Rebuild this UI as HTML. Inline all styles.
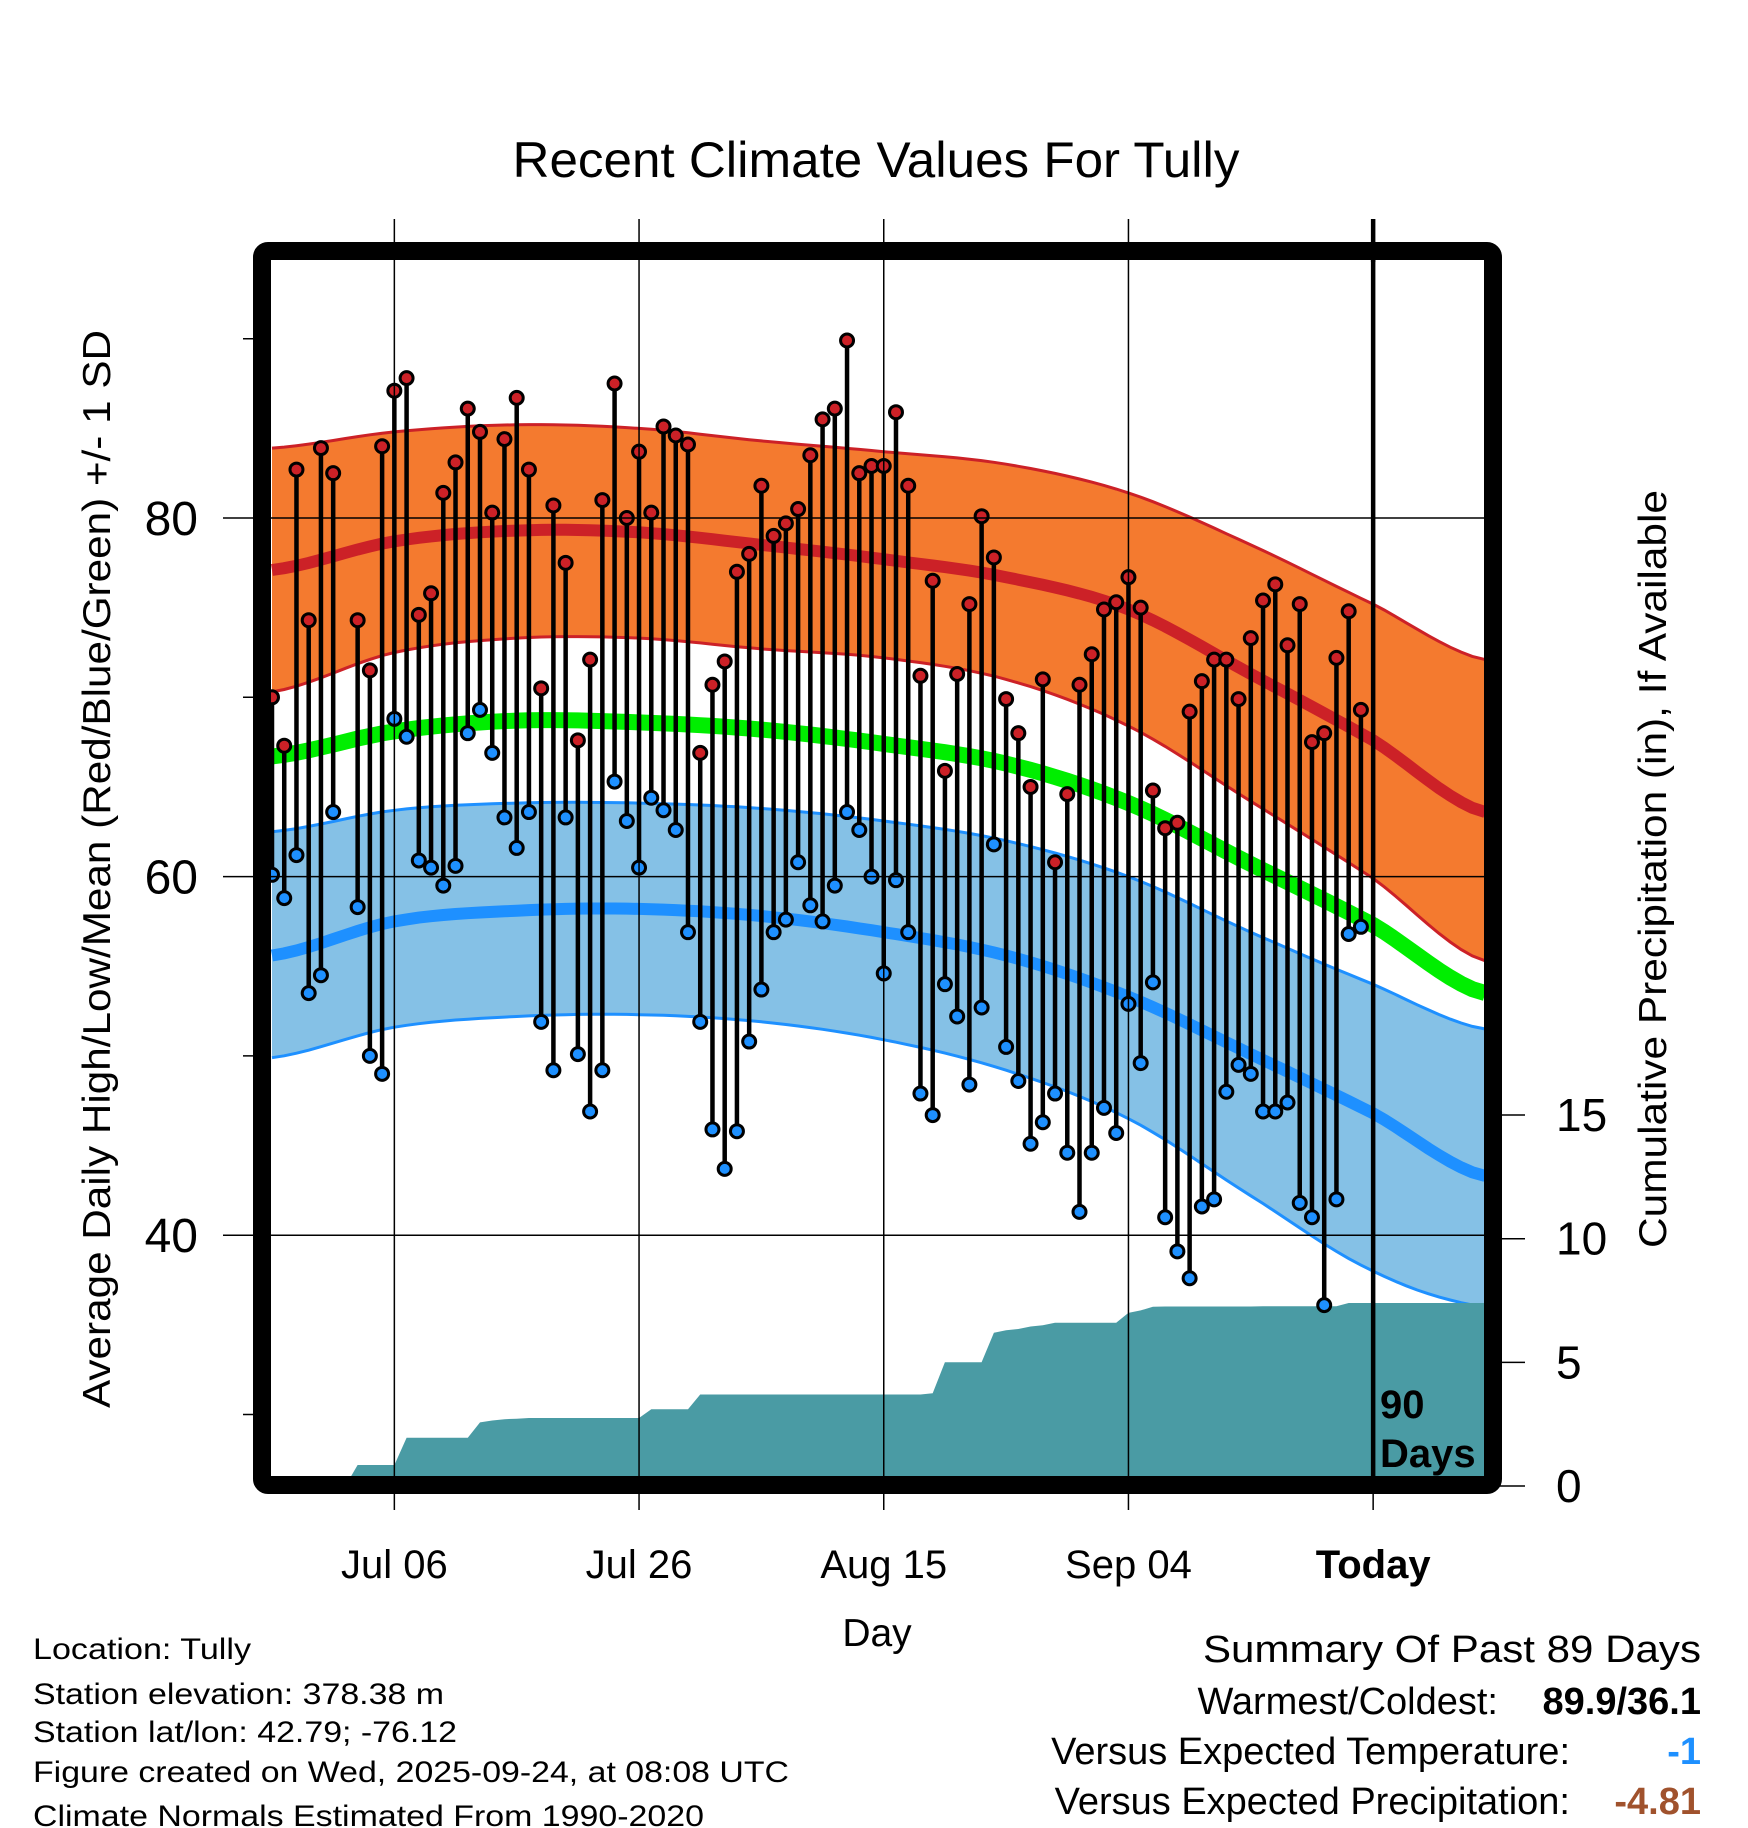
<!DOCTYPE html>
<html><head><meta charset="utf-8"><style>
html,body{margin:0;padding:0;background:#fff}
svg{display:block}
text{font-family:"Liberation Sans",Arial,sans-serif;fill:#000}
</style></head><body>
<svg id="chart" width="1748" height="1828" viewBox="0 0 1748 1828" xmlns="http://www.w3.org/2000/svg">
<defs><clipPath id="plotclip"><rect x="271" y="260" width="1214" height="1216"/></clipPath></defs>
<text x="876" y="177" font-size="50" text-anchor="middle" textLength="727" lengthAdjust="spacingAndGlyphs">Recent Climate Values For Tully</text>
<g id="plot" clip-path="url(#plotclip)"></g>
<g id="axes"></g>
<rect x="262" y="251" width="1231" height="1234" fill="none" stroke="#000" stroke-width="18" rx="6"/>
<text transform="translate(110,869) rotate(-90)" font-size="39" text-anchor="middle" textLength="1078" lengthAdjust="spacingAndGlyphs">Average Daily High/Low/Mean (Red/Blue/Green) +/- 1 SD</text>
<text transform="translate(1666,869) rotate(-90)" font-size="39" text-anchor="middle" textLength="758" lengthAdjust="spacingAndGlyphs">Cumulative Precipitation (in), If Available</text>
<text x="877" y="1646" font-size="39" text-anchor="middle">Day</text>
<text font-weight="bold" font-size="40"><tspan x="1380" y="1418">90</tspan><tspan x="1380" y="1467">Days</tspan></text>
<g font-size="30">
<text x="33" y="1659" textLength="218" lengthAdjust="spacingAndGlyphs">Location: Tully</text>
<text x="33" y="1704" textLength="411" lengthAdjust="spacingAndGlyphs">Station elevation: 378.38 m</text>
<text x="33" y="1742" textLength="424" lengthAdjust="spacingAndGlyphs">Station lat/lon: 42.79; -76.12</text>
<text x="33" y="1782" textLength="756" lengthAdjust="spacingAndGlyphs">Figure created on Wed, 2025-09-24, at 08:08 UTC</text>
<text x="33" y="1826" textLength="671" lengthAdjust="spacingAndGlyphs">Climate Normals Estimated From 1990-2020</text>
</g>
<g font-size="38">
<text x="1701" y="1662" text-anchor="end" textLength="498" lengthAdjust="spacingAndGlyphs">Summary Of Past 89 Days</text>
<text x="1498" y="1714" text-anchor="end">Warmest/Coldest:</text>
<text x="1701" y="1714" text-anchor="end" font-weight="bold">89.9/36.1</text>
<text x="1570" y="1764" text-anchor="end">Versus Expected Temperature:</text>
<text x="1701" y="1764" text-anchor="end" font-weight="bold" style="fill:#1E90FF">-1</text>
<text x="1570" y="1814" text-anchor="end">Versus Expected Precipitation:</text>
<text x="1701" y="1814" text-anchor="end" font-weight="bold" style="fill:#A0522D">-4.81</text>
</g>
</svg>
<script>
const highs=[70.0,67.3,82.7,74.3,83.9,82.5,null,74.3,71.5,84.0,87.1,87.8,74.6,75.8,81.4,83.1,86.1,84.8,80.3,84.4,86.7,82.7,70.5,80.7,77.5,67.6,72.1,81.0,87.5,80.0,83.7,80.3,85.1,84.6,84.1,66.9,70.7,72.0,77.0,78.0,81.8,79.0,79.7,80.5,83.5,85.5,86.1,89.9,82.5,82.9,82.9,85.9,81.8,71.2,76.5,65.9,71.3,75.2,80.1,77.8,69.9,68.0,65.0,71.0,60.8,64.6,70.7,72.4,74.9,75.3,76.7,75.0,64.8,62.7,63.0,69.2,70.9,72.1,72.1,69.9,73.3,75.4,76.3,72.9,75.2,67.5,68.0,72.2,74.8,69.3];
const lows=[60.1,58.8,61.2,53.5,54.5,63.6,null,58.3,50.0,49.0,68.8,67.8,60.9,60.5,59.5,60.6,68.0,69.3,66.9,63.3,61.6,63.6,51.9,49.2,63.3,50.1,46.9,49.2,65.3,63.1,60.5,64.4,63.7,62.6,56.9,51.9,45.9,43.7,45.8,50.8,53.7,56.9,57.6,60.8,58.4,57.5,59.5,63.6,62.6,60.0,54.6,59.8,56.9,47.9,46.7,54.0,52.2,48.4,52.7,61.8,50.5,48.6,45.1,46.3,47.9,44.6,41.3,44.6,47.1,45.7,52.9,49.6,54.1,41.0,39.1,37.6,41.6,42.0,48.0,49.5,49.0,46.9,46.9,47.4,41.8,41.0,36.1,42.0,56.8,57.2];
const precipCum=[0,0,0,0,0,0,0,0.85,0.85,0.85,0.85,1.95,1.95,1.95,1.95,1.95,1.95,2.57,2.65,2.7,2.72,2.75,2.75,2.75,2.75,2.75,2.75,2.75,2.75,2.75,2.75,3.1,3.1,3.1,3.1,3.7,3.7,3.7,3.7,3.7,3.7,3.7,3.7,3.7,3.7,3.7,3.7,3.7,3.7,3.7,3.7,3.7,3.7,3.7,3.75,5.0,5.0,5.0,5.0,6.2,6.3,6.35,6.45,6.5,6.6,6.6,6.6,6.6,6.6,6.6,7.0,7.1,7.25,7.26,7.26,7.26,7.26,7.26,7.26,7.26,7.26,7.27,7.27,7.27,7.27,7.27,7.27,7.27,7.4,7.4];
const normalDays=[0,10,20,30,40,50,60,70,80,90,99];
const highMean=[77.1,78.7,79.3,79.2,78.5,77.7,76.7,74.9,71.3,67.6,63.6];
const highUpper=[83.9,84.8,85.2,85.0,84.3,83.7,83.0,81.4,78.5,75.2,72.1];
const highLower=[70.3,72.5,73.3,73.3,72.7,72.2,71.0,68.4,64.2,59.9,55.3];
const lowMean=[55.6,57.5,58.1,58.2,57.8,56.9,55.6,53.3,50.1,46.8,43.3];
const lowUpper=[62.5,63.7,64.1,64.1,63.8,63.1,62.0,60.0,56.9,54.0,51.5];
const lowLower=[49.9,51.6,52.2,52.3,51.9,50.9,49.2,46.5,42.2,38.0,36.0];
const avgMean=[66.7,68.1,68.7,68.6,68.2,67.4,66.3,64.1,60.7,57.3,53.5];
const tempTicks=[80,60,40];
const tempMinor=[90,70,50,30];
const precipTicks=[0,5,10,15];
const dateTickDays=[10,30,50,70,90];
const dateTickLabels=["Jul 06","Jul 26","Aug 15","Sep 04","Today"];

const NS="http://www.w3.org/2000/svg";
const X=d=>272+d*12.235;
const Y=t=>518+(80-t)*17.93;
const YP=p=>1486-p*24.73;
const plot=document.getElementById('plot'),axes=document.getElementById('axes');
function mk(tag,attrs,parent){const e=document.createElementNS(NS,tag);for(const k in attrs)e.setAttribute(k,attrs[k]);parent.appendChild(e);return e;}
function smooth(vals){const pts=[];for(let i=0;i<normalDays.length-1;i++){const p0=vals[Math.max(i-1,0)],p1=vals[i],p2=vals[i+1],p3=vals[Math.min(i+2,vals.length-1)];const d0=normalDays[i],d1=normalDays[i+1];for(let s=0;s<10;s++){const t=s/10;const v=0.5*((2*p1)+(-p0+p2)*t+(2*p0-5*p1+4*p2-p3)*t*t+(-p0+3*p1-3*p2+p3)*t*t*t);pts.push([X(d0+(d1-d0)*t),Y(v)]);}}pts.push([X(normalDays[normalDays.length-1])+2,Y(vals[vals.length-1])]);return pts;}
function pstr(pts){return pts.map(p=>p[0].toFixed(1)+','+p[1].toFixed(1)).join(' ');}
function band(up,lo,fill,edge,name){const u=smooth(up),l=smooth(lo);
const e=mk('polygon',{points:pstr(u.concat(l.slice().reverse())),fill:fill},plot);


const a=mk('polyline',{points:pstr(u),fill:'none',stroke:edge,'stroke-width':3},plot);


const b=mk('polyline',{points:pstr(l),fill:'none',stroke:edge,'stroke-width':3},plot);

}
function line(vals,color,w,name){const e=mk('polyline',{points:pstr(smooth(vals)),fill:'none',stroke:color,'stroke-width':w},plot);

}
band(highUpper,highLower,'#F47A2F','#CC2127','high-sd-band');
band(lowUpper,lowLower,'#85C1E6','#1E90FF','low-sd-band');
line(avgMean,'#00EE00',16,'mean-normal-line');
line(highMean,'#CC2127',12,'high-normal-line');
line(lowMean,'#1E90FF',12,'low-normal-line');
let pp=[[X(0),YP(0)]];precipCum.forEach((v,i)=>pp.push([X(i),YP(v)]));pp.push([X(100),YP(precipCum[precipCum.length-1])]);pp.push([X(100),1490]);pp.push([X(0),1490]);
const pa=mk('polygon',{points:pstr(pp),fill:'#4A9BA4'},plot);


tempTicks.forEach(t=>{const g=mk('line',{x1:223,x2:1485,y1:Y(t),y2:Y(t),stroke:'#000','stroke-width':1.5},axes);


const l=mk('text',{x:198,y:Y(t)+17,'font-size':48,'text-anchor':'end'},axes);l.textContent=t;

});
tempMinor.forEach(t=>{const g=mk('line',{x1:243,x2:262,y1:Y(t),y2:Y(t),stroke:'#000','stroke-width':1.5},axes);

});
precipTicks.forEach(p=>{const g=mk('line',{x1:1493,x2:1525,y1:YP(p),y2:YP(p),stroke:'#000','stroke-width':1.5},axes);


const l=mk('text',{x:1556,y:YP(p)+16,'font-size':46},axes);l.textContent=p;

});
dateTickDays.forEach((d,i)=>{const today=dateTickLabels[i]==='Today';
const g=mk('line',{x1:X(d),x2:X(d),y1:219,y2:today?1476:1510,stroke:'#000','stroke-width':today?4.5:1.5},today?plot:axes);


if(today){const t2=mk('line',{x1:X(d),x2:X(d),y1:219,y2:262,stroke:'#000','stroke-width':4.5},axes);


const t3=mk('line',{x1:X(d),x2:X(d),y1:1490,y2:1510,stroke:'#000','stroke-width':1.5},axes);

}
const l=mk('text',{x:X(d),y:1578,'font-size':40,'text-anchor':'middle'},axes);l.textContent=dateTickLabels[i];
if(today)l.setAttribute('font-weight','bold');

});
highs.forEach((h,i)=>{const lo=lows[i];if(h==null||lo==null)return;
const s=mk('line',{x1:X(i),x2:X(i),y1:Y(h),y2:Y(lo),stroke:'#000','stroke-width':4.5},plot);

});
highs.forEach((h,i)=>{const lo=lows[i];if(h==null||lo==null)return;
const a=mk('circle',{cx:X(i),cy:Y(h),r:6.5,fill:'#CC2127',stroke:'#000','stroke-width':3},plot);


const b=mk('circle',{cx:X(i),cy:Y(lo),r:6.5,fill:'#1E90FF',stroke:'#000','stroke-width':3},plot);

});
</script>
</body></html>
